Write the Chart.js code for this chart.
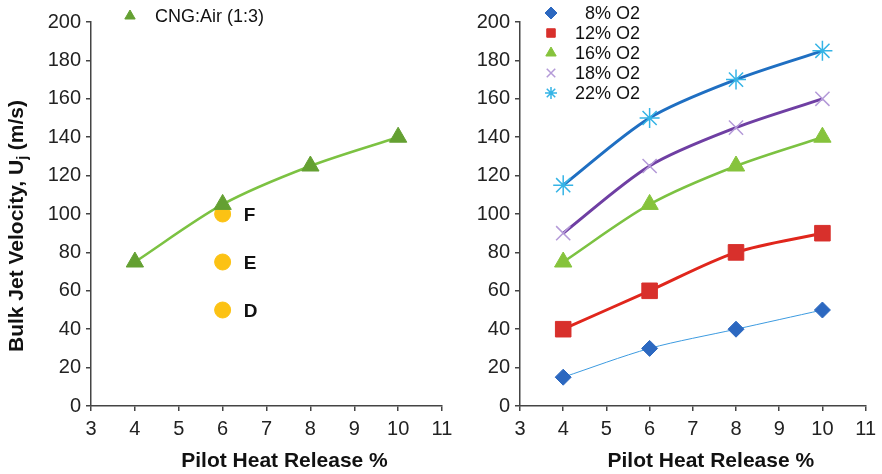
<!DOCTYPE html>
<html>
<head>
<meta charset="utf-8">
<script src="https://cdn.jsdelivr.net/npm/chart.js@4.4.1/dist/chart.umd.min.js"></script>
<style>
  body { margin: 0; background: #fff; }
  .wrap { position: relative; width: 882px; height: 474px; overflow: hidden; }
  canvas { position: absolute; top: 0; }
</style>
</head>
<body>
<div class="wrap">
  <canvas id="leftChart" width="470" height="474" style="left:0"></canvas>
  <canvas id="rightChart" width="452" height="474" style="left:430px"></canvas>
</div>
<script>
// pilot heat release %, shared by all series
const heatRelease = [4, 6, 8, 10];

// left panel
const cngAir = [75, 105, 125, 140];
const flamePointsX = [6, 6, 6];
const flamePointsY = [100, 75, 50];
const flameLabels = ['F', 'E', 'D'];

// right panel, one series per O2 level
const o2Labels = ['8% O2', '12% O2', '16% O2', '18% O2', '22% O2'];
const o2_8 = [15, 30, 40, 50];
const o2_12 = [40, 60, 80, 90];
const o2_16 = [75, 105, 125, 140];
const o2_18 = [90, 125, 145, 160];
const o2_22 = [115, 150, 170, 185];

const FONT = '"Liberation Sans", Arial, sans-serif';
const pts = (xs, ys) => xs.map((x, i) => ({ x: x, y: ys[i] }));

// marker legend drawn inside the plot area
const markerLegend = {
  id: 'markerLegend',
  afterDraw(chart, args, o) {
    const ctx = chart.ctx;
    ctx.save();
    ctx.font = '18px ' + FONT;
    ctx.textBaseline = 'middle';
    o.items.forEach((idx, row) => {
      const ds = chart.data.datasets[idx];
      const y = o.y + row * o.rowH;
      ctx.fillStyle = ds.pointBackgroundColor;
      ctx.strokeStyle = ds.pointBorderColor;
      ctx.lineWidth = ds.pointBorderWidth || 1;
      Chart.helpers.drawPoint(ctx, { pointStyle: ds.pointStyle, radius: o.radius, rotation: 0, borderWidth: ctx.lineWidth }, o.markX, y);
      ctx.fillStyle = '#111';
      ctx.textAlign = o.align;
      ctx.fillText(ds.label, o.textX, y + 1);
    });
    ctx.restore();
  }
};

// axis titles (x title sits a bit right of centre in the original)
const axisTitles = {
  id: 'axisTitles',
  afterDraw(chart, args, o) {
    const ctx = chart.ctx;
    const a = chart.chartArea;
    ctx.save();
    ctx.fillStyle = '#111';
    ctx.font = 'bold 21px ' + FONT;
    ctx.textAlign = 'center';
    ctx.textBaseline = 'middle';
    ctx.fillText('Pilot Heat Release %', (a.left + a.right) / 2 + o.xShift, o.xTitleY);
    if (o.yTitle) {
      const p1 = 'Bulk Jet Velocity, U', sub = 'j', p2 = ' (m/s)';
      const w1 = ctx.measureText(p1).width, w2 = ctx.measureText(p2).width;
      ctx.font = 'bold 14px ' + FONT;
      const ws = ctx.measureText(sub).width;
      const total = w1 + ws + w2;
      ctx.translate(o.yTitleX, (a.top + a.bottom) / 2 + o.yShift);
      ctx.rotate(-Math.PI / 2);
      ctx.textAlign = 'left';
      let x = -total / 2;
      ctx.font = 'bold 21px ' + FONT;
      ctx.fillText(p1, x, 0);
      x += w1;
      ctx.font = 'bold 14px ' + FONT;
      ctx.fillText(sub, x, 6);
      x += ws;
      ctx.font = 'bold 21px ' + FONT;
      ctx.fillText(p2, x, 0);
    }
    ctx.restore();
  }
};

// F/E/D text beside the yellow points
const pointTags = {
  id: 'pointTags',
  afterDatasetsDraw(chart, args, o) {
    if (!o.labels) return;
    const ctx = chart.ctx;
    const meta = chart.getDatasetMeta(o.dataset);
    ctx.save();
    ctx.font = 'bold 19px ' + FONT;
    ctx.fillStyle = '#111';
    ctx.textBaseline = 'middle';
    meta.data.forEach((el, i) => {
      ctx.fillText(o.labels[i], el.x + 21, el.y + 2);
    });
    ctx.restore();
  }
};

function scales(yWidth) {
  const axisCol = '#444';
  const tickFont = { family: FONT, size: 20 };
  return {
    x: {
      type: 'linear', min: 3, max: 11,
      ticks: { stepSize: 1, font: tickFont, color: '#222', padding: 6 },
      grid: { drawOnChartArea: false, drawTicks: true, tickLength: 5, color: axisCol, lineWidth: 1.5 },
      border: { color: axisCol, width: 1.5 },
      afterFit: s => { s.height = 68; }
    },
    y: {
      min: 0, max: 200,
      ticks: { stepSize: 20, font: tickFont, color: '#222', padding: 5 },
      grid: { drawOnChartArea: false, drawTicks: true, tickLength: 5, color: axisCol, lineWidth: 1.5 },
      border: { color: axisCol, width: 1.5 },
      afterFit: s => { s.width = yWidth; }
    }
  };
}

function series(label, ys, lineCol, lineW, style, mFill, mStroke, radius, mBorder) {
  return {
    label: label,
    data: pts(heatRelease, ys),
    showLine: true,
    borderColor: lineCol,
    borderWidth: lineW,
    tension: 0.3,
    pointStyle: style,
    pointRadius: radius,
    pointBackgroundColor: mFill,
    pointBorderColor: mStroke,
    pointBorderWidth: mBorder
  };
}

new Chart(document.getElementById('leftChart'), {
  type: 'scatter',
  data: {
    datasets: [
      series('CNG:Air (1:3)', cngAir, '#7cc242', 2.5, 'triangle', '#64a032', '#64a032', 10, 1),
      {
        label: '',
        data: pts(flamePointsX, flamePointsY),
        pointStyle: 'circle',
        pointRadius: 8,
        pointBackgroundColor: '#fcc214',
        pointBorderColor: '#fcc214'
      }
    ]
  },
  options: {
    responsive: false,
    devicePixelRatio: 1,
    animation: false,
    layout: { padding: { top: 22, right: 28, bottom: 0, left: 0 } },
    scales: scales(91),
    plugins: {
      legend: { display: false },
      tooltip: { enabled: false },
      markerLegend: { items: [0], markX: 130, textX: 155, y: 16, rowH: 20, radius: 6, align: 'left' },
      axisTitles: { xShift: 18, xTitleY: 461, yTitle: true, yTitleX: 17, yShift: 12 },
      pointTags: { dataset: 1, labels: flameLabels }
    }
  },
  plugins: [markerLegend, axisTitles, pointTags]
});

new Chart(document.getElementById('rightChart'), {
  type: 'scatter',
  data: {
    datasets: [
      series(o2Labels[0], o2_8, '#3d9be0', 1, 'rectRot', '#2c68c0', '#2c68c0', 8, 1),
      series(o2Labels[1], o2_12, '#e0261c', 3, 'rect', '#d8302c', '#d8302c', 11, 1),
      series(o2Labels[2], o2_16, '#7cc242', 2.5, 'triangle', '#86c33c', '#86c33c', 10, 1),
      series(o2Labels[3], o2_18, '#6f3fa3', 3, 'crossRot', '#b49ad8', '#b49ad8', 10, 1.5),
      series(o2Labels[4], o2_22, '#1f6fc2', 3, 'star', '#35b4e6', '#35b4e6', 10, 1.5)
    ]
  },
  options: {
    responsive: false,
    devicePixelRatio: 1,
    animation: false,
    layout: { padding: { top: 22, right: 12, bottom: 0, left: 0 } },
    scales: scales(90),
    plugins: {
      legend: { display: false },
      tooltip: { enabled: false },
      markerLegend: { items: [0, 1, 2, 3, 4], markX: 121, textX: 210, y: 13, rowH: 20, radius: 6, align: 'right' },
      axisTitles: { xShift: 18, xTitleY: 461, yTitle: false }
    }
  },
  plugins: [markerLegend, axisTitles]
});
</script>
</body>
</html>
